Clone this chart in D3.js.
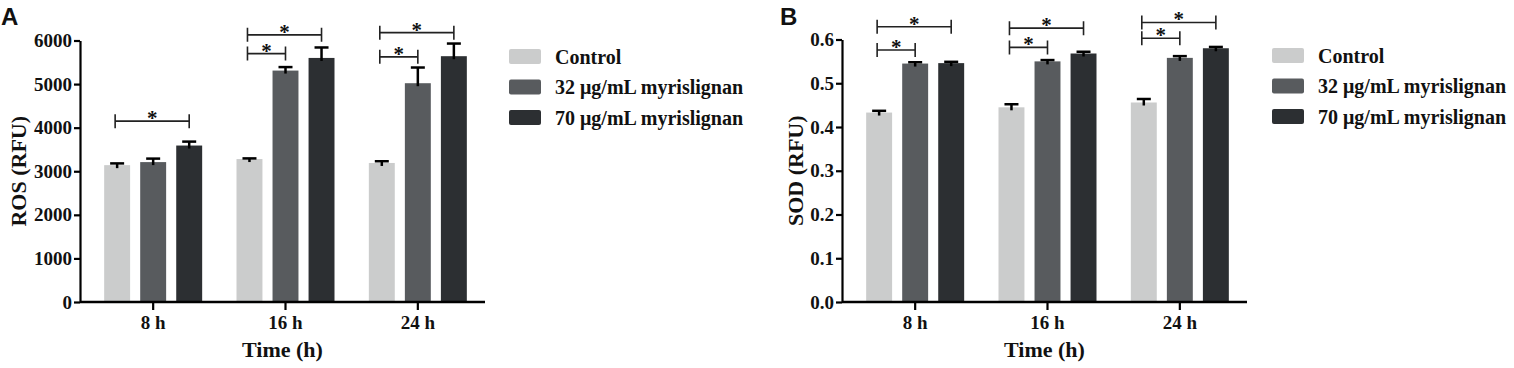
<!DOCTYPE html>
<html>
<head>
<meta charset="utf-8">
<script src="https://cdn.jsdelivr.net/npm/d3@7"></script>
<style>
  html, body { margin: 0; padding: 0; background: #fff; }
  svg { display: block; }
  text { font-family: "Liberation Serif", "Times New Roman", serif; font-weight: bold; fill: #111; }
</style>
</head>
<body>
<svg id="chart" width="1514" height="368"></svg>
<script>
// ---------- data ----------
const groups = ["8 h", "16 h", "24 h"];
const series = ["Control", "32 μg/mL myrislignan", "70 μg/mL myrislignan"];
const seriesColors = ["#cbcccc", "#585b5e", "#2c2f32"];

const rosTicks = [0, 1000, 2000, 3000, 4000, 5000, 6000];
const rosMean = [[3140, 3210, 3590], [3280, 5310, 5600], [3190, 5020, 5640]];
const rosErr  = [[40, 80, 90], [15, 80, 240], [40, 360, 290]];
const rosBrackets = [
  { group: "8 h",  from: 0, to: 2, y: 4150 },
  { group: "16 h", from: 0, to: 1, y: 5700 },
  { group: "16 h", from: 0, to: 2, y: 6130 },
  { group: "24 h", from: 0, to: 1, y: 5625 },
  { group: "24 h", from: 0, to: 2, y: 6180 }
];

const sodTicks = [0, 0.1, 0.2, 0.3, 0.4, 0.5, 0.6];
const sodMean = [[0.433, 0.545, 0.546], [0.445, 0.550, 0.568], [0.456, 0.558, 0.580]];
const sodErr  = [[0.004, 0.003, 0.003], [0.007, 0.003, 0.004], [0.008, 0.004, 0.003]];
const sodBrackets = [
  { group: "8 h",  from: 0, to: 1, y: 0.576 },
  { group: "8 h",  from: 0, to: 2, y: 0.629 },
  { group: "16 h", from: 0, to: 1, y: 0.582 },
  { group: "16 h", from: 0, to: 2, y: 0.626 },
  { group: "24 h", from: 0, to: 1, y: 0.603 },
  { group: "24 h", from: 0, to: 2, y: 0.639 }
];

// ---------- drawing ----------
const svg = d3.select("#chart");

function panel(cfg) {
  const g = svg.append("g");
  const x = d3.scaleBand().domain(groups).range([cfg.x0 + 7, cfg.x1 - 1]).padding(0);
  const xs = d3.scaleBand().domain(d3.range(series.length)).range([-49, 49]).paddingInner(0.28).paddingOuter(0);
  const y = d3.scaleLinear().domain([0, cfg.max]).range([302, cfg.top]);
  const cx = gi => x(groups[gi]) + x.bandwidth() / 2;
  const bw = xs.bandwidth();

  // bars
  const rows = [];
  cfg.mean.forEach((row, gi) => row.forEach((v, si) => rows.push({ gi, si, v, e: cfg.err[gi][si] })));
  g.selectAll("rect.bar").data(rows).join("rect")
    .attr("class", "bar")
    .attr("x", d => cx(d.gi) + xs(d.si))
    .attr("width", bw)
    .attr("y", d => y(d.v))
    .attr("height", d => y(0) - y(d.v))
    .attr("fill", d => seriesColors[d.si]);

  // error bars (upper)
  const eb = g.selectAll("g.err").data(rows).join("g").attr("class", "err");
  eb.append("line")
    .attr("x1", d => cx(d.gi) + xs(d.si) + bw / 2)
    .attr("x2", d => cx(d.gi) + xs(d.si) + bw / 2)
    .attr("y1", d => y(d.v) + 3)
    .attr("y2", d => y(d.v + d.e))
    .attr("stroke", "#000").attr("stroke-width", 2.5);
  eb.append("line")
    .attr("x1", d => cx(d.gi) + xs(d.si) + bw / 2 - 7)
    .attr("x2", d => cx(d.gi) + xs(d.si) + bw / 2 + 7)
    .attr("y1", d => y(d.v + d.e))
    .attr("y2", d => y(d.v + d.e))
    .attr("stroke", "#000").attr("stroke-width", 2.5);

  // axes
  const ya = g.append("g").attr("transform", `translate(${cfg.x0},0)`)
    .call(d3.axisLeft(y).tickValues(cfg.ticks).tickFormat(cfg.fmt).tickSize(6).tickSizeOuter(0).tickPadding(2));
  ya.select(".domain").attr("stroke", "#000").attr("stroke-width", 2.2);
  ya.selectAll(".tick line").attr("stroke", "#000").attr("stroke-width", 2.2);
  ya.selectAll(".tick text").style("font-size", "19px").style("font-family", "Liberation Serif").style("font-weight", "bold").attr("fill", "#111");

  const xa = g.append("g").attr("transform", `translate(0,${y(0)})`)
    .call(d3.axisBottom(x).tickSize(8).tickSizeOuter(0).tickPadding(6));
  xa.select(".domain").attr("d", `M${cfg.x0},0H${cfg.x1}`).attr("stroke", "#000").attr("stroke-width", 2.4);
  xa.selectAll(".tick line").attr("stroke", "#000").attr("stroke-width", 2.2);
  xa.selectAll(".tick text").style("font-size", "19px").style("font-family", "Liberation Serif").style("font-weight", "bold").attr("fill", "#111");

  // axis titles
  g.append("text")
    .attr("transform", `translate(${cfg.titleX},${(y(0) + y(cfg.max)) / 2}) rotate(-90)`)
    .attr("text-anchor", "middle").attr("dominant-baseline", "central")
    .style("font-size", "22px").text(cfg.yTitle);
  g.append("text")
    .attr("x", (cfg.x0 + cfg.x1) / 2).attr("y", 357)
    .attr("text-anchor", "middle")
    .style("font-size", "22px").text("Time (h)");

  // significance brackets
  const br = g.selectAll("g.br").data(cfg.brackets).join("g").attr("class", "br");
  const bx1 = d => cx(groups.indexOf(d.group)) + xs(d.from) + bw / 2 - 2;
  const bx2 = d => cx(groups.indexOf(d.group)) + xs(d.to) + bw / 2;
  br.append("path")
    .attr("d", d => `M${bx1(d)},${y(d.y) - 7}V${y(d.y) + 7}M${bx1(d)},${y(d.y)}H${bx2(d)}M${bx2(d)},${y(d.y) - 7}V${y(d.y) + 7}`)
    .attr("fill", "none").attr("stroke", "#222").attr("stroke-width", 1.6);
  br.append("text")
    .attr("x", d => (bx1(d) + bx2(d)) / 2)
    .attr("y", d => y(d.y) + 4)
    .attr("text-anchor", "middle")
    .style("font-size", "21px").text("*");

  // legend
  const lg = g.append("g").attr("transform", `translate(${cfg.legX},${cfg.legY})`);
  const li = lg.selectAll("g").data(series).join("g").attr("transform", (d, i) => `translate(0,${i * 30.5})`);
  li.append("rect").attr("width", 32).attr("height", 15).attr("rx", 2).attr("fill", (d, i) => seriesColors[i]);
  li.append("text").attr("x", 46).attr("y", 7.5).attr("dominant-baseline", "central")
    .style("font-size", "20px").text(d => d);

  // panel letter
  svg.append("text").attr("x", cfg.letterX).attr("y", 25)
    .style("font-family", "Liberation Sans, Arial, sans-serif").style("font-size", "24px").style("font-weight", "bold")
    .attr("fill", "#000").text(cfg.letter);
}

panel({ x0: 80, x1: 485, max: 6000, top: 40.5, ticks: rosTicks, fmt: d3.format("d"),
        mean: rosMean, err: rosErr, brackets: rosBrackets, yTitle: "ROS (RFU)", titleX: 18,
        legX: 509, legY: 49, letter: "A", letterX: 1 });
panel({ x0: 842, x1: 1247, max: 0.6, top: 39.5, ticks: sodTicks, fmt: d3.format(".1f"),
        mean: sodMean, err: sodErr, brackets: sodBrackets, yTitle: "SOD (RFU)", titleX: 795,
        legX: 1272, legY: 48, letter: "B", letterX: 780 });
</script>
</body>
</html>
